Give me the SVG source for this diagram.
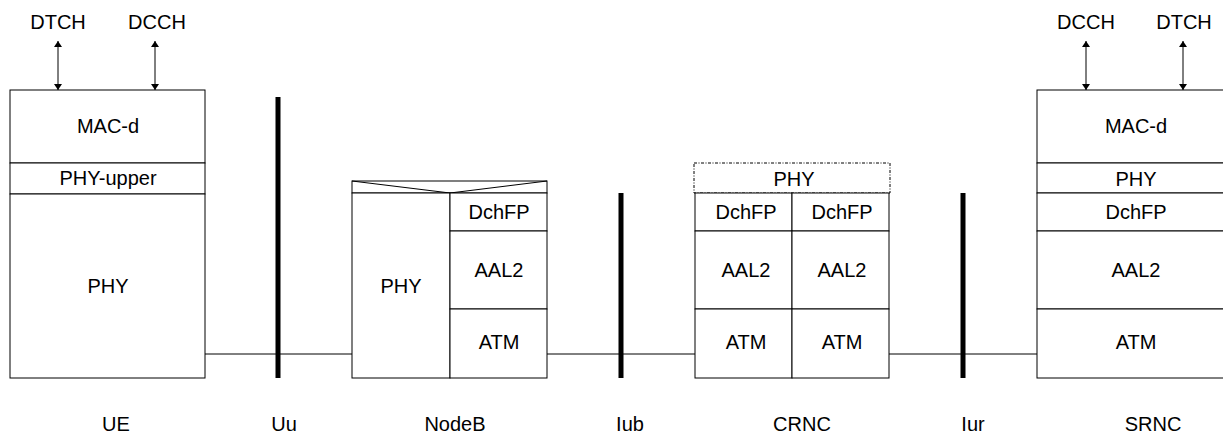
<svg xmlns="http://www.w3.org/2000/svg" width="1223" height="436" viewBox="0 0 1223 436">
<style>
.b{fill:#fff;stroke:#000;stroke-width:1}
.t{font-family:"Liberation Sans",Arial,sans-serif;font-size:20px;fill:#000;text-anchor:middle}
.l{stroke:#000;stroke-width:1;fill:none}
.bar{stroke:#000;stroke-width:5}
.d{fill:#fff;stroke:#000;stroke-width:1;stroke-dasharray:3,1.5,1,1.5}
</style>
<defs>
<marker id="ah" viewBox="0 0 6 8" refX="6" refY="4" markerWidth="6" markerHeight="8" markerUnits="userSpaceOnUse" orient="auto-start-reverse">
<path d="M0,0 L6,4 L0,8 z" fill="#000"/>
</marker>
</defs>
<g id="connectors">
<line class="l" x1="205" y1="354" x2="352" y2="354"/>
<line class="l" x1="547" y1="354" x2="695" y2="354"/>
<line class="l" x1="889" y1="354" x2="1037" y2="354"/>
<line class="l" x1="58" y1="41" x2="58" y2="90" marker-start="url(#ah)" marker-end="url(#ah)"/>
<line class="l" x1="155" y1="41" x2="155" y2="90" marker-start="url(#ah)" marker-end="url(#ah)"/>
<line class="l" x1="1086" y1="41" x2="1086" y2="90" marker-start="url(#ah)" marker-end="url(#ah)"/>
<line class="l" x1="1183" y1="41" x2="1183" y2="90" marker-start="url(#ah)" marker-end="url(#ah)"/>
</g>
<g id="UE">
<rect class="b" x="10" y="90" width="195" height="73"/>
<rect class="b" x="10" y="163" width="195" height="31"/>
<rect class="b" x="10" y="194" width="195" height="184"/>
<text class="t" x="108" y="133">MAC-d</text>
<text class="t" x="108" y="185">PHY-upper</text>
<text class="t" x="108" y="293">PHY</text>
<text class="t" x="58" y="29">DTCH</text>
<text class="t" x="157" y="29">DCCH</text>
<text class="t" x="116" y="431">UE</text>
</g>
<g id="Uu">
<line class="bar" x1="278" y1="97" x2="278" y2="378"/>
<text class="t" x="284" y="431">Uu</text>
</g>
<g id="NodeB">
<rect class="b" x="352" y="181" width="195" height="12"/>
<path class="l" d="M352,181 L450,193 L547,181"/>
<rect class="b" x="352" y="193" width="98" height="185"/>
<rect class="b" x="450" y="193" width="97" height="38"/>
<rect class="b" x="450" y="231" width="97" height="78"/>
<rect class="b" x="450" y="309" width="97" height="69"/>
<text class="t" x="401" y="293">PHY</text>
<text class="t" x="499" y="219">DchFP</text>
<text class="t" x="499" y="277">AAL2</text>
<text class="t" x="499" y="349">ATM</text>
<text class="t" x="455" y="431">NodeB</text>
</g>
<g id="Iub">
<line class="bar" x1="621" y1="193" x2="621" y2="378"/>
<text class="t" x="630" y="431">Iub</text>
</g>
<g id="CRNC">
<rect class="d" x="694" y="163" width="196" height="30"/>
<rect class="b" x="695" y="193" width="97" height="38"/>
<rect class="b" x="792" y="193" width="97" height="38"/>
<rect class="b" x="695" y="231" width="97" height="78"/>
<rect class="b" x="792" y="231" width="97" height="78"/>
<rect class="b" x="695" y="309" width="97" height="69"/>
<rect class="b" x="792" y="309" width="97" height="69"/>
<text class="t" x="794" y="186">PHY</text>
<text class="t" x="746" y="219">DchFP</text>
<text class="t" x="842" y="219">DchFP</text>
<text class="t" x="746" y="277">AAL2</text>
<text class="t" x="842" y="277">AAL2</text>
<text class="t" x="746" y="349">ATM</text>
<text class="t" x="842" y="349">ATM</text>
<text class="t" x="802" y="431">CRNC</text>
</g>
<g id="Iur">
<line class="bar" x1="963" y1="193" x2="963" y2="378"/>
<text class="t" x="973" y="431">Iur</text>
</g>
<g id="SRNC">
<rect class="b" x="1037" y="90" width="198" height="73"/>
<rect class="b" x="1037" y="163" width="198" height="30"/>
<rect class="b" x="1037" y="193" width="198" height="38"/>
<rect class="b" x="1037" y="231" width="198" height="78"/>
<rect class="b" x="1037" y="309" width="198" height="69"/>
<text class="t" x="1136" y="133">MAC-d</text>
<text class="t" x="1136" y="186">PHY</text>
<text class="t" x="1136" y="219">DchFP</text>
<text class="t" x="1136" y="277">AAL2</text>
<text class="t" x="1136" y="349">ATM</text>
<text class="t" x="1086" y="29">DCCH</text>
<text class="t" x="1184" y="29">DTCH</text>
<text class="t" x="1153" y="431">SRNC</text>
</g>
</svg>
